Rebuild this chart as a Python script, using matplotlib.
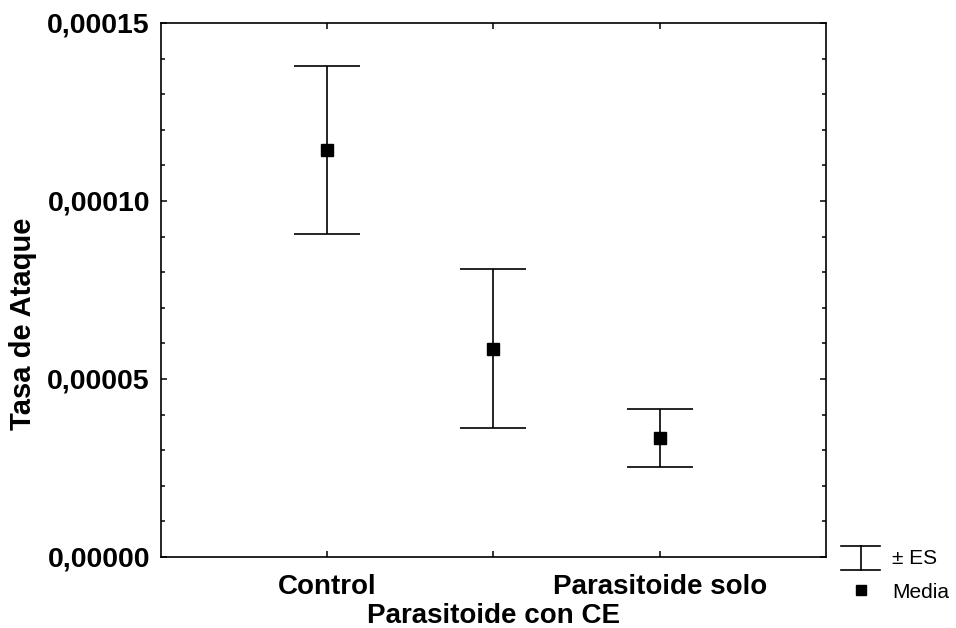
import matplotlib
matplotlib.use("Agg")
import matplotlib.pyplot as plt
from matplotlib.lines import Line2D
from matplotlib.ticker import MultipleLocator, FuncFormatter

plt.rcParams["font.family"] = ["Liberation Sans", "DejaVu Sans"]

groups = ["Control", "Parasitoide con CE", "Parasitoide solo"]
means = [1.143e-4, 5.85e-5, 3.35e-5]
se = [2.36e-5, 2.23e-5, 0.82e-5]

fig = plt.figure(figsize=(9.56, 6.28), dpi=100)
ax = fig.add_axes([0.1684, 0.1131, 0.6956, 0.8503])

pos = [1, 2, 3]
ax.errorbar(pos, means, yerr=se, fmt="none", ecolor="black",
            elinewidth=1.2, capsize=24, capthick=1.2)
ax.plot(pos, means, "s", color="black", markersize=9)

ax.set_xlim(0, 4)
ax.set_ylim(0, 0.00015)
ax.set_xticks(pos)
ax.set_xticklabels(groups, fontsize=20, fontweight="bold")
# stagger the middle label below the others
ax.get_xticklabels()[1].set_y(-0.055)

ax.yaxis.set_major_locator(MultipleLocator(5e-5))
ax.yaxis.set_minor_locator(MultipleLocator(1e-5))
ax.yaxis.set_major_formatter(FuncFormatter(lambda v, p: f"{v:.5f}".replace(".", ",")))
for lab in ax.get_yticklabels():
    lab.set_fontweight("bold")
ax.tick_params(axis="y", labelsize=20.5)

ax.tick_params(which="both", direction="in", top=True, right=True, width=1.1)
ax.tick_params(which="major", length=4)
ax.tick_params(which="minor", length=3)
ax.tick_params(axis="x", pad=12)
ax.tick_params(axis="y", pad=8)
for s in ax.spines.values():
    s.set_linewidth(1.2)

ax.set_ylabel("Tasa de Ataque", fontsize=21, fontweight="bold")
ax.yaxis.set_label_coords(-0.1865, 0.437)

# legend drawn in figure pixel space
W, H = 956, 628
def fx(x):
    return x / W
def fy(y):
    return 1 - y / H

for (x0, x1, y0, y1) in [(841, 880, 546, 546), (841, 880, 570, 570), (860.5, 860.5, 546, 570)]:
    fig.add_artist(Line2D([fx(x0), fx(x1)], [fy(y0), fy(y1)], color="black", lw=1.2))
fig.add_artist(Line2D([fx(861)], [fy(590)], marker="s", color="black", markersize=7))
fig.text(fx(892), fy(558), "± ES", fontsize=15, va="center", ha="left")
fig.text(fx(892), fy(592), "Media", fontsize=15, va="center", ha="left")

fig.savefig("out.png", dpi=100)
